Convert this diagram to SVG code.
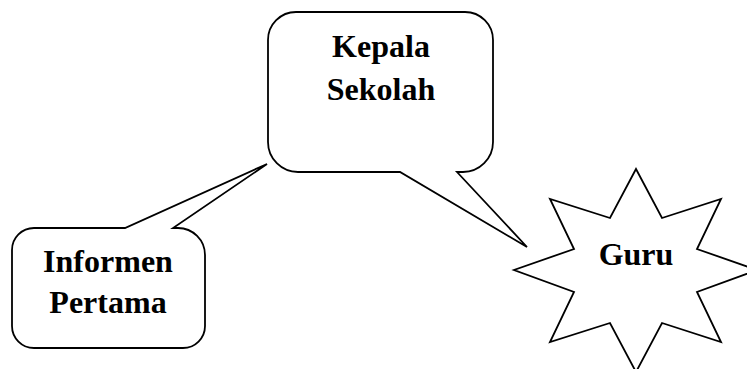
<svg xmlns="http://www.w3.org/2000/svg" width="747" height="369" viewBox="0 0 747 369">
<style>
.shape{fill:#fff;stroke:#000;stroke-width:1.8;stroke-linejoin:miter}
.lbl{font-family:"Liberation Serif","Times New Roman",serif;font-weight:bold;font-size:32px;fill:#000;text-anchor:middle}
</style>
<rect width="747" height="369" fill="#fff"/>
<g id="connectors"></g>
<g id="kepala-sekolah">
<path class="shape" d="M296,12 H465 A28 28 0 0 1 493,40 V142 A30 30 0 0 1 463,172 H457 L527,247 L400,172 H298 A30 30 0 0 1 268,142 V40 A28 28 0 0 1 296,12 Z"/>
<text class="lbl" x="381" y="57">Kepala</text>
<text class="lbl" x="381" y="100">Sekolah</text>
</g>
<g id="informen-pertama">
<path class="shape" d="M34,228 H125 L267,164 L173,228 H178 A27 27 0 0 1 205,255 V326 A22 22 0 0 1 183,348 H34 A22 22 0 0 1 12,326 V250 A22 22 0 0 1 34,228 Z"/>
<text class="lbl" x="108" y="272">Informen</text>
<text class="lbl" x="108" y="313">Pertama</text>
</g>
<g id="guru">
<path class="shape" d="M636,169 L662,218 L721,199 L697,249 L757,270 L697,292 L721,342 L662,323 L636,372 L610,323 L550,342 L574,292 L514,270 L574,249 L550,199 L610,218 Z"/>
<text class="lbl" x="636" y="265">Guru</text>
</g>
</svg>
